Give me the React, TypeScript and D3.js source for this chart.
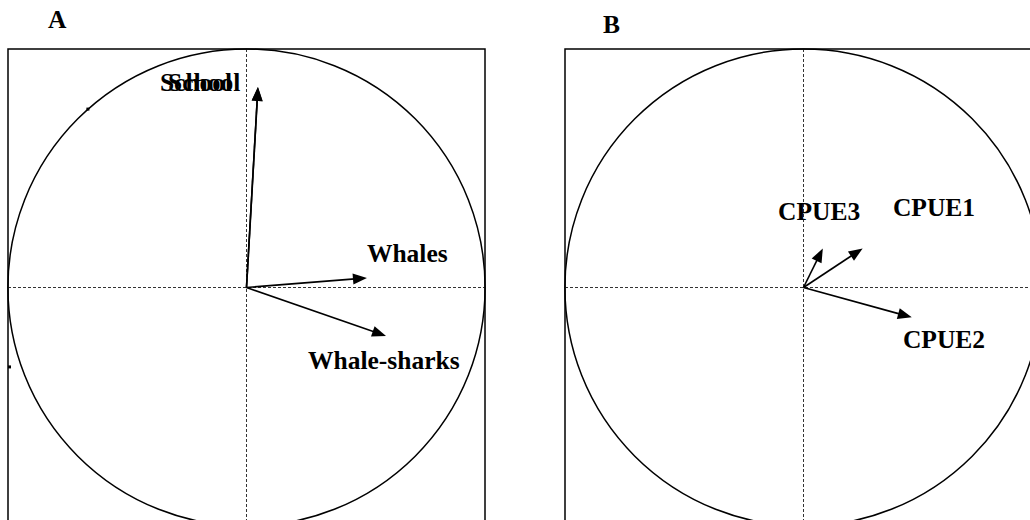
import React from "react";
import * as d3 from "d3";

// Correlation circles: loadings of each variable on the first two axes
const panelIds = ["A", "B"];

const varsA = ["School", "School", "Whales", "Whale-sharks"];
const loadAx = [0.048, 0.048, 0.505, 0.585];
const loadAy = [0.841, 0.841, 0.04, -0.203];

const varsB = ["CPUE3", "CPUE1", "CPUE2"];
const loadBx = [0.081, 0.248, 0.454];
const loadBy = [0.164, 0.164, -0.125];

// label anchors (data units, start of text / baseline)
const labelAx = [-0.363, -0.329, 0.505, 0.258];
const labelAy = [0.824, 0.824, 0.107, -0.342];
const labelBx = [-0.107, 0.375, 0.417];
const labelBy = [0.283, 0.3, -0.254];

// small point marks on panel A (data units)
const marksAx = [-0.665];
const marksAy = [0.748];
const ticksAy = [-0.333];

const W = 1030;
const H = 520;
const FONT = "'Liberation Serif', 'Times New Roman', serif";
const FS = 25.5;

type PanelProps = {
  id: string;
  x0: number;
  x1: number;
  titleX: number;
  titleY: number;
  names: string[];
  lx: number[];
  ly: number[];
  tx: number[];
  ty: number[];
  withMarks?: boolean;
};

function Arrow({ x1, y1, x2, y2 }: { x1: number; y1: number; x2: number; y2: number }) {
  const len = Math.hypot(x2 - x1, y2 - y1);
  const ux = (x2 - x1) / len;
  const uy = (y2 - y1) / len;
  const hl = 14;
  const hw = 5.5;
  const bx = x2 - ux * hl;
  const by = y2 - uy * hl;
  const pts = [
    [x2, y2],
    [bx - uy * hw, by + ux * hw],
    [bx + uy * hw, by - ux * hw],
  ];
  return (
    <g>
      <line x1={x1} y1={y1} x2={bx + ux * 2} y2={by + uy * 2} stroke="#000" strokeWidth={1.6} />
      <polygon points={pts.map((p) => p.join(",")).join(" ")} fill="#000" />
    </g>
  );
}

function Panel({ id, x0, x1, titleX, titleY, names, lx, ly, tx, ty, withMarks }: PanelProps) {
  const top = 49;
  const bottom = top + (x1 - x0);
  const x = d3.scaleLinear().domain([-1, 1]).range([x0, x1]);
  const y = d3.scaleLinear().domain([-1, 1]).range([bottom, top]);
  const r = (x1 - x0) / 2;
  const circle = d3.arc()({
    innerRadius: 0,
    outerRadius: r,
    startAngle: 0,
    endAngle: 2 * Math.PI,
  } as any) as string;
  return (
    <g>
      <text x={titleX} y={titleY} fontFamily={FONT} fontWeight="bold" fontSize={FS}>
        {id}
      </text>
      <rect x={x(-1)} y={y(1)} width={x(1) - x(-1)} height={y(-1) - y(1)} fill="none" stroke="#000" strokeWidth={1.5} />
      <line x1={x(-1)} x2={x(1)} y1={y(0)} y2={y(0)} stroke="#333" strokeWidth={1} strokeDasharray="3,2" />
      <line x1={x(0)} x2={x(0)} y1={y(1)} y2={y(-1)} stroke="#333" strokeWidth={1} strokeDasharray="3,2" />
      <path d={circle} transform={`translate(${x(0)},${y(0)})`} fill="none" stroke="#000" strokeWidth={1.5} />
      {withMarks &&
        marksAx.map((mx, i) => (
          <rect key={"m" + i} x={x(mx) - 1.5} y={y(marksAy[i]) - 1.5} width={3} height={3} fill="#000" />
        ))}
      {withMarks &&
        ticksAy.map((t, i) => (
          <rect key={"t" + i} x={x(-1)} y={y(t) - 1.5} width={3} height={3} fill="#000" />
        ))}
      {names.map((n, i) => (
        <Arrow key={"a" + i} x1={x(0)} y1={y(0)} x2={x(lx[i])} y2={y(ly[i])} />
      ))}
      {names.map((n, i) => (
        <text key={"l" + i} x={x(tx[i])} y={y(ty[i])} fontFamily={FONT} fontWeight="bold" fontSize={FS} fill="#000">
          {n}
        </text>
      ))}
    </g>
  );
}

export default function App() {
  return (
    <svg
      width={W}
      height={H}
      viewBox={`0 0 ${W} ${H}`}
      style={{ position: "absolute", left: 0, top: 0, background: "#fff" }}
    >
      <rect x={0} y={0} width={W} height={H} fill="#fff" />
      <Panel
        id={panelIds[0]}
        x0={8}
        x1={485}
        titleX={48}
        titleY={28}
        names={varsA}
        lx={loadAx}
        ly={loadAy}
        tx={labelAx}
        ty={labelAy}
        withMarks
      />
      <Panel
        id={panelIds[1]}
        x0={565}
        x1={1042}
        titleX={603}
        titleY={33}
        names={varsB}
        lx={loadBx}
        ly={loadBy}
        tx={labelBx}
        ty={labelBy}
      />
    </svg>
  );
}
